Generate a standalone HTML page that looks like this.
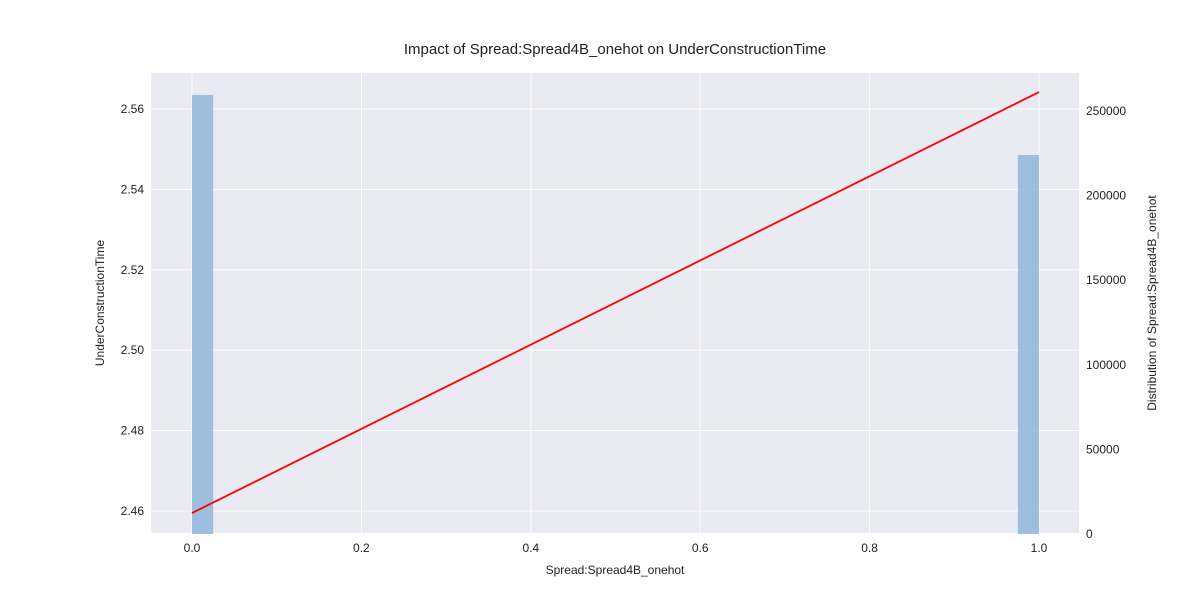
<!DOCTYPE html>
<html><head><meta charset="utf-8"><style>
body{margin:0;background:#fff;}
svg text{font-family:"Liberation Sans",Arial,sans-serif;fill:#222;}
</style></head><body>
<svg id="chart" width="1200" height="600"></svg>
<script>
const xTicks=[0.0,0.2,0.4,0.6,0.8,1.0];
const yTicks=[2.46,2.48,2.50,2.52,2.54,2.56];
const y2Ticks=[0,50000,100000,150000,200000,250000];
const binStarts=[0.0,0.975];
const binCounts=[259500,224000];
const binWidth=0.025;
const lineX=[0,1];
const lineY=[2.4595,2.5642];

const L=151,R=1079,T=73,B=533;
const sx=v=>192+(v-0)*(1039-192);
const sy=v=>511+(v-2.46)*(109-511)/0.10;
const sy2=v=>534-v*(534-111)/250000;
const svg=document.getElementById('chart');
const NS='http://www.w3.org/2000/svg';
function mk(tag,attrs,txt){const e=document.createElementNS(NS,tag);for(const k in attrs)e.setAttribute(k,attrs[k]);if(txt!==undefined)e.textContent=txt;svg.appendChild(e);return e;}
let e=mk('rect',{x:L,y:T,width:R-L,height:B-T,fill:'#eaeaf2'});


xTicks.forEach(v=>{
 let g=mk('line',{x1:sx(v),x2:sx(v),y1:T,y2:B,stroke:'#fff','stroke-width':1});
 
 
 let t=mk('text',{x:sx(v),y:B+19,'text-anchor':'middle','font-size':12},v.toFixed(1));
 
 
});
yTicks.forEach(v=>{
 let g=mk('line',{x1:L,x2:R,y1:sy(v),y2:sy(v),stroke:'#fff','stroke-width':1});
 
 
 let t=mk('text',{x:L-7,y:sy(v)+4,'text-anchor':'end','font-size':12},v.toFixed(2));
 
 
});
y2Ticks.forEach(v=>{
 let t=mk('text',{x:R+7,y:sy2(v)+4,'text-anchor':'start','font-size':12},String(v));
 
 
});
binStarts.forEach((s,i)=>{
 let b=mk('rect',{x:sx(s),y:sy2(binCounts[i]),width:sx(s+binWidth)-sx(s),height:sy2(0)-sy2(binCounts[i]),fill:'#8fb6da','fill-opacity':0.85});
 
 
});
let ln=mk('polyline',{points:lineX.map((x,i)=>sx(x)+','+sy(lineY[i])).join(' '),fill:'none',stroke:'#ff0000','stroke-width':1.8});


let tt=mk('text',{x:615,y:54,'text-anchor':'middle','font-size':15},'Impact of Spread:Spread4B_onehot on UnderConstructionTime');


let xl=mk('text',{x:615,y:574,'text-anchor':'middle','font-size':12},'Spread:Spread4B_onehot');


let yl=mk('text',{x:104,y:303,'text-anchor':'middle','font-size':12,transform:'rotate(-90 104 303)'},'UnderConstructionTime');


let y2l=mk('text',{x:1156,y:303,'text-anchor':'middle','font-size':12,transform:'rotate(-90 1156 303)'},'Distribution of Spread:Spread4B_onehot');


</script>
</body></html>
